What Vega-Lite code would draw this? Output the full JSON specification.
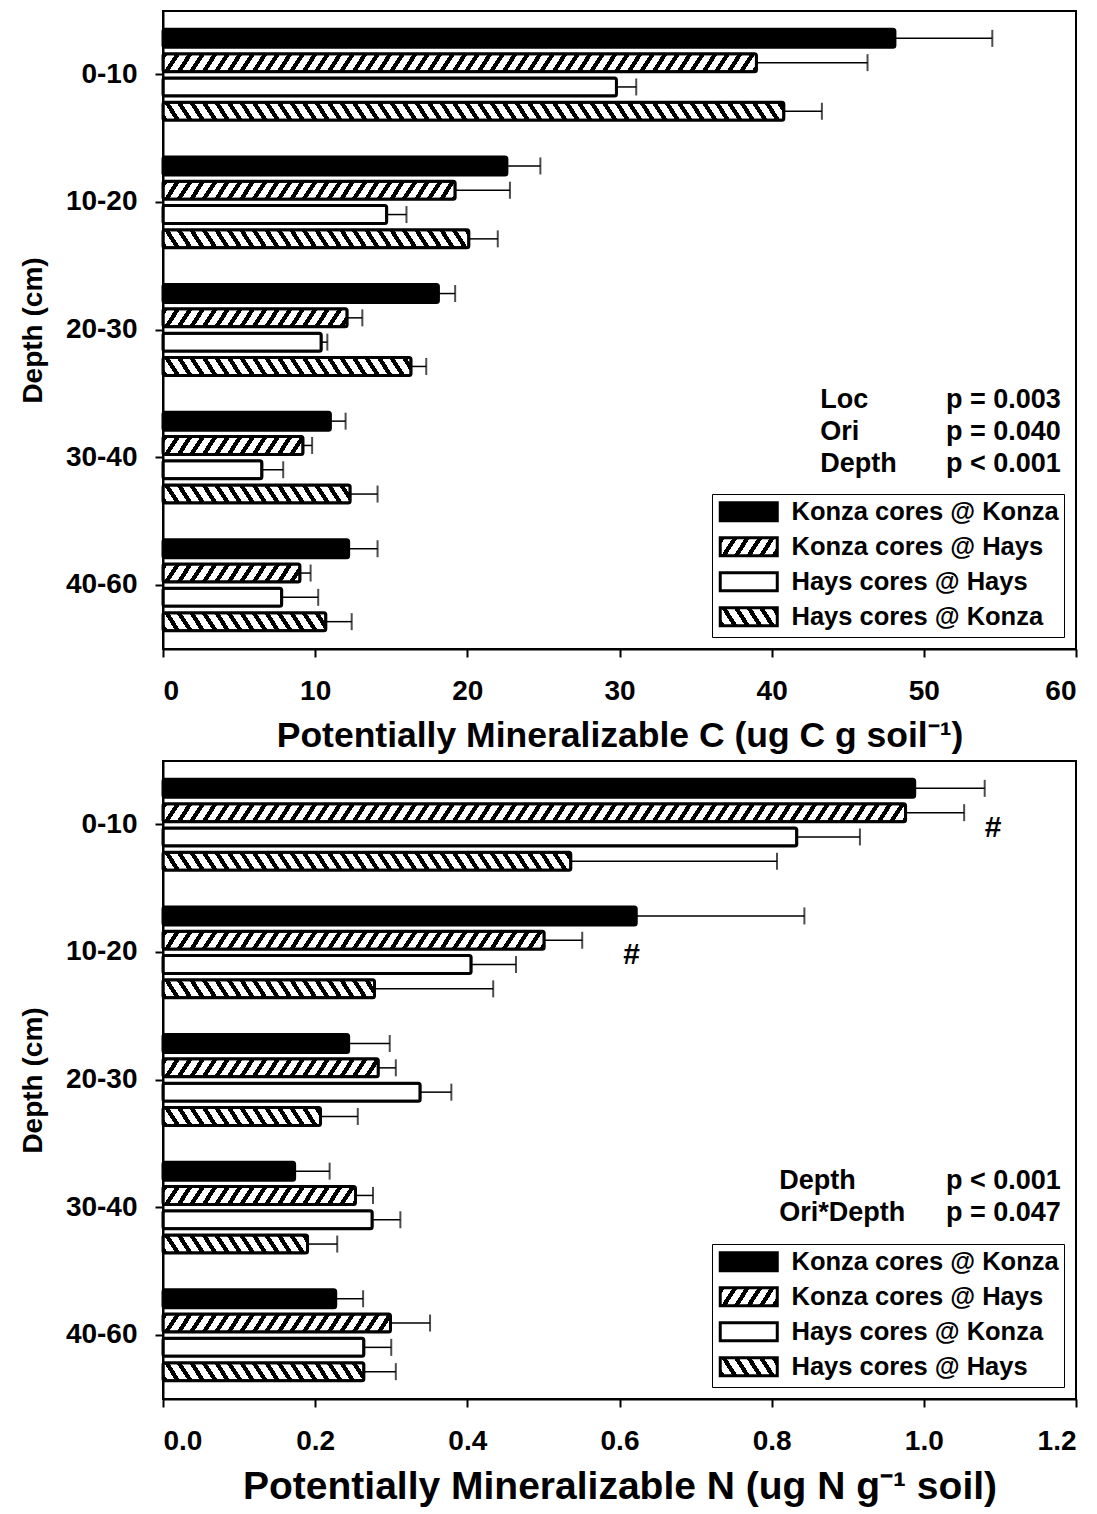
{
  "$schema": "https://vega.github.io/schema/vega-lite/v6.json",
  "padding": {"left": 18, "top": 10, "right": 0, "bottom": 0},
  "background": "#ffffff",
  "params": [
    {
      "name": "hatch",
      "value": [
        {"offset":0,"color":"#fff"},{"offset":0,"color":"#000"},{"offset":0.00625,"color":"#000"},{"offset":0.00625,"color":"#fff"},
        {"offset":0.015625,"color":"#fff"},{"offset":0.015625,"color":"#000"},{"offset":0.021875,"color":"#000"},{"offset":0.021875,"color":"#fff"},
        {"offset":0.03125,"color":"#fff"},{"offset":0.03125,"color":"#000"},{"offset":0.0375,"color":"#000"},{"offset":0.0375,"color":"#fff"},
        {"offset":0.046875,"color":"#fff"},{"offset":0.046875,"color":"#000"},{"offset":0.053125,"color":"#000"},{"offset":0.053125,"color":"#fff"},
        {"offset":0.0625,"color":"#fff"},{"offset":0.0625,"color":"#000"},{"offset":0.06875,"color":"#000"},{"offset":0.06875,"color":"#fff"},
        {"offset":0.078125,"color":"#fff"},{"offset":0.078125,"color":"#000"},{"offset":0.084375,"color":"#000"},{"offset":0.084375,"color":"#fff"},
        {"offset":0.09375,"color":"#fff"},{"offset":0.09375,"color":"#000"},{"offset":0.1,"color":"#000"},{"offset":0.1,"color":"#fff"},
        {"offset":0.109375,"color":"#fff"},{"offset":0.109375,"color":"#000"},{"offset":0.115625,"color":"#000"},{"offset":0.115625,"color":"#fff"},
        {"offset":0.125,"color":"#fff"},{"offset":0.125,"color":"#000"},{"offset":0.13125,"color":"#000"},{"offset":0.13125,"color":"#fff"},
        {"offset":0.140625,"color":"#fff"},{"offset":0.140625,"color":"#000"},{"offset":0.146875,"color":"#000"},{"offset":0.146875,"color":"#fff"},
        {"offset":0.15625,"color":"#fff"},{"offset":0.15625,"color":"#000"},{"offset":0.1625,"color":"#000"},{"offset":0.1625,"color":"#fff"},
        {"offset":0.171875,"color":"#fff"},{"offset":0.171875,"color":"#000"},{"offset":0.178125,"color":"#000"},{"offset":0.178125,"color":"#fff"},
        {"offset":0.1875,"color":"#fff"},{"offset":0.1875,"color":"#000"},{"offset":0.19375,"color":"#000"},{"offset":0.19375,"color":"#fff"},
        {"offset":0.203125,"color":"#fff"},{"offset":0.203125,"color":"#000"},{"offset":0.209375,"color":"#000"},{"offset":0.209375,"color":"#fff"},
        {"offset":0.21875,"color":"#fff"},{"offset":0.21875,"color":"#000"},{"offset":0.225,"color":"#000"},{"offset":0.225,"color":"#fff"},
        {"offset":0.234375,"color":"#fff"},{"offset":0.234375,"color":"#000"},{"offset":0.240625,"color":"#000"},{"offset":0.240625,"color":"#fff"},
        {"offset":0.25,"color":"#fff"},{"offset":0.25,"color":"#000"},{"offset":0.25625,"color":"#000"},{"offset":0.25625,"color":"#fff"},
        {"offset":0.265625,"color":"#fff"},{"offset":0.265625,"color":"#000"},{"offset":0.271875,"color":"#000"},{"offset":0.271875,"color":"#fff"},
        {"offset":0.28125,"color":"#fff"},{"offset":0.28125,"color":"#000"},{"offset":0.2875,"color":"#000"},{"offset":0.2875,"color":"#fff"},
        {"offset":0.296875,"color":"#fff"},{"offset":0.296875,"color":"#000"},{"offset":0.303125,"color":"#000"},{"offset":0.303125,"color":"#fff"},
        {"offset":0.3125,"color":"#fff"},{"offset":0.3125,"color":"#000"},{"offset":0.31875,"color":"#000"},{"offset":0.31875,"color":"#fff"},
        {"offset":0.328125,"color":"#fff"},{"offset":0.328125,"color":"#000"},{"offset":0.334375,"color":"#000"},{"offset":0.334375,"color":"#fff"},
        {"offset":0.34375,"color":"#fff"},{"offset":0.34375,"color":"#000"},{"offset":0.35,"color":"#000"},{"offset":0.35,"color":"#fff"},
        {"offset":0.359375,"color":"#fff"},{"offset":0.359375,"color":"#000"},{"offset":0.365625,"color":"#000"},{"offset":0.365625,"color":"#fff"},
        {"offset":0.375,"color":"#fff"},{"offset":0.375,"color":"#000"},{"offset":0.38125,"color":"#000"},{"offset":0.38125,"color":"#fff"},
        {"offset":0.390625,"color":"#fff"},{"offset":0.390625,"color":"#000"},{"offset":0.396875,"color":"#000"},{"offset":0.396875,"color":"#fff"},
        {"offset":0.40625,"color":"#fff"},{"offset":0.40625,"color":"#000"},{"offset":0.4125,"color":"#000"},{"offset":0.4125,"color":"#fff"},
        {"offset":0.421875,"color":"#fff"},{"offset":0.421875,"color":"#000"},{"offset":0.428125,"color":"#000"},{"offset":0.428125,"color":"#fff"},
        {"offset":0.4375,"color":"#fff"},{"offset":0.4375,"color":"#000"},{"offset":0.44375,"color":"#000"},{"offset":0.44375,"color":"#fff"},
        {"offset":0.453125,"color":"#fff"},{"offset":0.453125,"color":"#000"},{"offset":0.459375,"color":"#000"},{"offset":0.459375,"color":"#fff"},
        {"offset":0.46875,"color":"#fff"},{"offset":0.46875,"color":"#000"},{"offset":0.475,"color":"#000"},{"offset":0.475,"color":"#fff"},
        {"offset":0.484375,"color":"#fff"},{"offset":0.484375,"color":"#000"},{"offset":0.490625,"color":"#000"},{"offset":0.490625,"color":"#fff"},
        {"offset":0.5,"color":"#fff"},{"offset":0.5,"color":"#000"},{"offset":0.50625,"color":"#000"},{"offset":0.50625,"color":"#fff"},
        {"offset":0.515625,"color":"#fff"},{"offset":0.515625,"color":"#000"},{"offset":0.521875,"color":"#000"},{"offset":0.521875,"color":"#fff"},
        {"offset":0.53125,"color":"#fff"},{"offset":0.53125,"color":"#000"},{"offset":0.5375,"color":"#000"},{"offset":0.5375,"color":"#fff"},
        {"offset":0.546875,"color":"#fff"},{"offset":0.546875,"color":"#000"},{"offset":0.553125,"color":"#000"},{"offset":0.553125,"color":"#fff"},
        {"offset":0.5625,"color":"#fff"},{"offset":0.5625,"color":"#000"},{"offset":0.56875,"color":"#000"},{"offset":0.56875,"color":"#fff"},
        {"offset":0.578125,"color":"#fff"},{"offset":0.578125,"color":"#000"},{"offset":0.584375,"color":"#000"},{"offset":0.584375,"color":"#fff"},
        {"offset":0.59375,"color":"#fff"},{"offset":0.59375,"color":"#000"},{"offset":0.6,"color":"#000"},{"offset":0.6,"color":"#fff"},
        {"offset":0.609375,"color":"#fff"},{"offset":0.609375,"color":"#000"},{"offset":0.615625,"color":"#000"},{"offset":0.615625,"color":"#fff"},
        {"offset":0.625,"color":"#fff"},{"offset":0.625,"color":"#000"},{"offset":0.63125,"color":"#000"},{"offset":0.63125,"color":"#fff"},
        {"offset":0.640625,"color":"#fff"},{"offset":0.640625,"color":"#000"},{"offset":0.646875,"color":"#000"},{"offset":0.646875,"color":"#fff"},
        {"offset":0.65625,"color":"#fff"},{"offset":0.65625,"color":"#000"},{"offset":0.6625,"color":"#000"},{"offset":0.6625,"color":"#fff"},
        {"offset":0.671875,"color":"#fff"},{"offset":0.671875,"color":"#000"},{"offset":0.678125,"color":"#000"},{"offset":0.678125,"color":"#fff"},
        {"offset":0.6875,"color":"#fff"},{"offset":0.6875,"color":"#000"},{"offset":0.69375,"color":"#000"},{"offset":0.69375,"color":"#fff"},
        {"offset":0.703125,"color":"#fff"},{"offset":0.703125,"color":"#000"},{"offset":0.709375,"color":"#000"},{"offset":0.709375,"color":"#fff"},
        {"offset":0.71875,"color":"#fff"},{"offset":0.71875,"color":"#000"},{"offset":0.725,"color":"#000"},{"offset":0.725,"color":"#fff"},
        {"offset":0.734375,"color":"#fff"},{"offset":0.734375,"color":"#000"},{"offset":0.740625,"color":"#000"},{"offset":0.740625,"color":"#fff"},
        {"offset":0.75,"color":"#fff"},{"offset":0.75,"color":"#000"},{"offset":0.75625,"color":"#000"},{"offset":0.75625,"color":"#fff"},
        {"offset":0.765625,"color":"#fff"},{"offset":0.765625,"color":"#000"},{"offset":0.771875,"color":"#000"},{"offset":0.771875,"color":"#fff"},
        {"offset":0.78125,"color":"#fff"},{"offset":0.78125,"color":"#000"},{"offset":0.7875,"color":"#000"},{"offset":0.7875,"color":"#fff"},
        {"offset":0.796875,"color":"#fff"},{"offset":0.796875,"color":"#000"},{"offset":0.803125,"color":"#000"},{"offset":0.803125,"color":"#fff"},
        {"offset":0.8125,"color":"#fff"},{"offset":0.8125,"color":"#000"},{"offset":0.81875,"color":"#000"},{"offset":0.81875,"color":"#fff"},
        {"offset":0.828125,"color":"#fff"},{"offset":0.828125,"color":"#000"},{"offset":0.834375,"color":"#000"},{"offset":0.834375,"color":"#fff"},
        {"offset":0.84375,"color":"#fff"},{"offset":0.84375,"color":"#000"},{"offset":0.85,"color":"#000"},{"offset":0.85,"color":"#fff"},
        {"offset":0.859375,"color":"#fff"},{"offset":0.859375,"color":"#000"},{"offset":0.865625,"color":"#000"},{"offset":0.865625,"color":"#fff"},
        {"offset":0.875,"color":"#fff"},{"offset":0.875,"color":"#000"},{"offset":0.88125,"color":"#000"},{"offset":0.88125,"color":"#fff"},
        {"offset":0.890625,"color":"#fff"},{"offset":0.890625,"color":"#000"},{"offset":0.896875,"color":"#000"},{"offset":0.896875,"color":"#fff"},
        {"offset":0.90625,"color":"#fff"},{"offset":0.90625,"color":"#000"},{"offset":0.9125,"color":"#000"},{"offset":0.9125,"color":"#fff"},
        {"offset":0.921875,"color":"#fff"},{"offset":0.921875,"color":"#000"},{"offset":0.928125,"color":"#000"},{"offset":0.928125,"color":"#fff"},
        {"offset":0.9375,"color":"#fff"},{"offset":0.9375,"color":"#000"},{"offset":0.94375,"color":"#000"},{"offset":0.94375,"color":"#fff"},
        {"offset":0.953125,"color":"#fff"},{"offset":0.953125,"color":"#000"},{"offset":0.959375,"color":"#000"},{"offset":0.959375,"color":"#fff"},
        {"offset":0.96875,"color":"#fff"},{"offset":0.96875,"color":"#000"},{"offset":0.975,"color":"#000"},{"offset":0.975,"color":"#fff"},
        {"offset":0.984375,"color":"#fff"},{"offset":0.984375,"color":"#000"},{"offset":0.990625,"color":"#000"},{"offset":0.990625,"color":"#fff"}
      ]
    }
  ],
  "datasets": {
    "carbon": [
      {"depth":"0-10","series":"Konza cores @ Konza","mean":48.1,"upper":54.5},
      {"depth":"0-10","series":"Konza cores @ Hays","mean":39.0,"upper":46.3},
      {"depth":"0-10","series":"Hays cores @ Hays","mean":29.8,"upper":31.1},
      {"depth":"0-10","series":"Hays cores @ Konza","mean":40.8,"upper":43.3},
      {"depth":"10-20","series":"Konza cores @ Konza","mean":22.6,"upper":24.8},
      {"depth":"10-20","series":"Konza cores @ Hays","mean":19.2,"upper":22.8},
      {"depth":"10-20","series":"Hays cores @ Hays","mean":14.7,"upper":16.0},
      {"depth":"10-20","series":"Hays cores @ Konza","mean":20.1,"upper":22.0},
      {"depth":"20-30","series":"Konza cores @ Konza","mean":18.1,"upper":19.2},
      {"depth":"20-30","series":"Konza cores @ Hays","mean":12.1,"upper":13.1},
      {"depth":"20-30","series":"Hays cores @ Hays","mean":10.4,"upper":10.8},
      {"depth":"20-30","series":"Hays cores @ Konza","mean":16.3,"upper":17.3},
      {"depth":"30-40","series":"Konza cores @ Konza","mean":11.0,"upper":12.0},
      {"depth":"30-40","series":"Konza cores @ Hays","mean":9.2,"upper":9.8},
      {"depth":"30-40","series":"Hays cores @ Hays","mean":6.5,"upper":7.9},
      {"depth":"30-40","series":"Hays cores @ Konza","mean":12.3,"upper":14.1},
      {"depth":"40-60","series":"Konza cores @ Konza","mean":12.2,"upper":14.1},
      {"depth":"40-60","series":"Konza cores @ Hays","mean":9.0,"upper":9.7},
      {"depth":"40-60","series":"Hays cores @ Hays","mean":7.8,"upper":10.2},
      {"depth":"40-60","series":"Hays cores @ Konza","mean":10.7,"upper":12.4}
    ],
    "nitrogen": [
      {"depth":"0-10","series":"Konza cores @ Konza","mean":0.988,"upper":1.080},
      {"depth":"0-10","series":"Konza cores @ Hays","mean":0.976,"upper":1.053},
      {"depth":"0-10","series":"Hays cores @ Konza","mean":0.833,"upper":0.916},
      {"depth":"0-10","series":"Hays cores @ Hays","mean":0.536,"upper":0.807},
      {"depth":"10-20","series":"Konza cores @ Konza","mean":0.622,"upper":0.843},
      {"depth":"10-20","series":"Konza cores @ Hays","mean":0.501,"upper":0.551},
      {"depth":"10-20","series":"Hays cores @ Konza","mean":0.405,"upper":0.464},
      {"depth":"10-20","series":"Hays cores @ Hays","mean":0.278,"upper":0.434},
      {"depth":"20-30","series":"Konza cores @ Konza","mean":0.244,"upper":0.298},
      {"depth":"20-30","series":"Konza cores @ Hays","mean":0.283,"upper":0.306},
      {"depth":"20-30","series":"Hays cores @ Konza","mean":0.338,"upper":0.379},
      {"depth":"20-30","series":"Hays cores @ Hays","mean":0.207,"upper":0.256},
      {"depth":"30-40","series":"Konza cores @ Konza","mean":0.173,"upper":0.219},
      {"depth":"30-40","series":"Konza cores @ Hays","mean":0.253,"upper":0.276},
      {"depth":"30-40","series":"Hays cores @ Konza","mean":0.275,"upper":0.312},
      {"depth":"30-40","series":"Hays cores @ Hays","mean":0.190,"upper":0.229},
      {"depth":"40-60","series":"Konza cores @ Konza","mean":0.227,"upper":0.263},
      {"depth":"40-60","series":"Konza cores @ Hays","mean":0.299,"upper":0.351},
      {"depth":"40-60","series":"Hays cores @ Konza","mean":0.264,"upper":0.300},
      {"depth":"40-60","series":"Hays cores @ Hays","mean":0.264,"upper":0.306}
    ],
    "nitrogenNotes": [
      {"depth":"0-10","x":1.091,"note":"#"},
      {"depth":"10-20","x":0.616,"note":"#"}
    ]
  },
  "config": {
    "font": "Liberation Sans",
    "view": {"stroke": "#000", "strokeWidth": 2},
    "axis": {
      "domainColor": "#000", "domainWidth": 2, "tickColor": "#000", "tickWidth": 2, "tickSize": 8,
      "labelColor": "#000", "labelFont": "Liberation Sans", "labelFontWeight": "bold", "labelFontSize": 28,
      "titleColor": "#000", "titleFont": "Liberation Sans", "titleFontWeight": "bold", "grid": false
    },
    "legend": {
      "title": null, "orient": "bottom-right", "offset": 12,
      "symbolType": "M-3.125,-1H3.125V1H-3.125Z", "symbolSize": 333, "symbolOffset": 19,
      "symbolStrokeWidth": 3, "symbolStrokeColor": "#000",
      "labelFont": "Liberation Sans", "labelFontWeight": "bold", "labelFontSize": 25.5, "labelColor": "#000",
      "labelOffset": 30, "labelLimit": 500, "rowPadding": 4, "padding": 5,
      "strokeColor": "#000", "fillColor": "#fff"
    }
  },
  "spacing": 5,
  "resolve": {
    "scale": {"x": "independent", "y": "independent", "yOffset": "independent", "stroke": "independent"},
    "legend": {"stroke": "independent"}
  },
  "vconcat": [
    {
      "width": 913,
      "height": 638,
      "data": {"name": "carbon"},
      "layer": [
        {
          "mark": {
            "type": "bar", "strokeWidth": 3, "strokeJoin": "round", "cornerRadius": 2,
            "fill": {"expr": "(datum.series || datum.value) == 'Konza cores @ Konza' ? '#000' : (datum.series || datum.value) == 'Hays cores @ Hays' ? '#fff' : {'gradient': 'linear', 'x1': 0, 'y1': (datum.series || datum.value) == 'Konza cores @ Hays' ? 0 : 1, 'x2': 800 * (isValid(datum.mean) ? datum.mean * 15.2167 : 57) / (pow(isValid(datum.mean) ? datum.mean * 15.2167 : 57, 2) + 136.89), 'y2': ((datum.series || datum.value) == 'Konza cores @ Hays' ? 0 : 1) + ((datum.series || datum.value) == 'Konza cores @ Hays' ? 1 : -1) * 9360 / (pow(isValid(datum.mean) ? datum.mean * 15.2167 : 57, 2) + 136.89), 'stops': hatch}"}
          },
          "encoding": {
            "y": {
              "field": "depth", "type": "nominal",
              "scale": {"domain": ["0-10", "10-20", "20-30", "30-40", "40-60"], "paddingInner": 0, "paddingOuter": 0},
              "axis": {"title": "Depth (cm)", "titleFontSize": 28, "labelPadding": 18, "titlePadding": 18}
            },
            "yOffset": {
              "field": "series", "type": "nominal",
              "scale": {"domain": ["Konza cores @ Konza", "Konza cores @ Hays", "Hays cores @ Hays", "Hays cores @ Konza"], "paddingInner": 0.26, "paddingOuter": 0.755}
            },
            "x": {
              "field": "mean", "type": "quantitative",
              "scale": {"domain": [0, 60], "nice": false},
              "axis": {"title": "Potentially Mineralizable C (ug C g soil⁻¹)", "titleFontSize": 35.5, "values": [0, 10, 20, 30, 40, 50, 60], "labelPadding": 20, "titlePadding": 13}
            },
            "stroke": {
              "field": "series", "type": "nominal",
              "scale": {"domain": ["Konza cores @ Konza", "Konza cores @ Hays", "Hays cores @ Hays", "Hays cores @ Konza"], "range": ["#000", "#000", "#000", "#000"]},
              "legend": {"encode": {"legend": {"update": {"strokeWidth": {"value": 1.5}}}}}
            }
          }
        },
        {
          "mark": {"type": "rule", "strokeWidth": 1.5, "color": "#000"},
          "encoding": {
            "y": {"field": "depth", "type": "nominal"},
            "yOffset": {"field": "series", "type": "nominal"},
            "x": {"field": "mean", "type": "quantitative"},
            "x2": {"field": "upper"}
          }
        },
        {
          "mark": {"type": "tick", "orient": "vertical", "thickness": 2, "color": "#000"},
          "encoding": {
            "y": {"field": "depth", "type": "nominal"},
            "yOffset": {"field": "series", "type": "nominal"},
            "x": {"field": "upper", "type": "quantitative"},
            "size": {"value": 17}
          }
        },
        {
          "data": {"values": [{}]},
          "mark": {"type": "text", "text": ["Loc", "Ori", "Depth"], "align": "left", "baseline": "middle", "lineHeight": 32, "fontSize": 27, "fontWeight": "bold", "color": "#000", "dy": -58},
          "encoding": {
            "x": {"datum": 43.2, "type": "quantitative"},
            "y": {"datum": "30-40", "type": "nominal"}
          }
        },
        {
          "data": {"values": [{}]},
          "mark": {"type": "text", "text": ["p = 0.003", "p = 0.040", "p < 0.001"], "align": "left", "baseline": "middle", "lineHeight": 32, "fontSize": 27, "fontWeight": "bold", "color": "#000", "dy": -58},
          "encoding": {
            "x": {"datum": 51.45, "type": "quantitative"},
            "y": {"datum": "30-40", "type": "nominal"}
          }
        }
      ]
    },
    {
      "width": 913,
      "height": 638,
      "data": {"name": "nitrogen"},
      "layer": [
        {
          "mark": {
            "type": "bar", "strokeWidth": 3, "strokeJoin": "round", "cornerRadius": 2,
            "fill": {"expr": "(datum.series || datum.value) == 'Konza cores @ Konza' ? '#000' : (datum.series || datum.value) == 'Hays cores @ Konza' ? '#fff' : {'gradient': 'linear', 'x1': 0, 'y1': (datum.series || datum.value) == 'Konza cores @ Hays' ? 0 : 1, 'x2': 800 * (isValid(datum.mean) ? datum.mean * 760.833 : 57) / (pow(isValid(datum.mean) ? datum.mean * 760.833 : 57, 2) + 136.89), 'y2': ((datum.series || datum.value) == 'Konza cores @ Hays' ? 0 : 1) + ((datum.series || datum.value) == 'Konza cores @ Hays' ? 1 : -1) * 9360 / (pow(isValid(datum.mean) ? datum.mean * 760.833 : 57, 2) + 136.89), 'stops': hatch}"}
          },
          "encoding": {
            "y": {
              "field": "depth", "type": "nominal",
              "scale": {"domain": ["0-10", "10-20", "20-30", "30-40", "40-60"], "paddingInner": 0, "paddingOuter": 0},
              "axis": {"title": "Depth (cm)", "titleFontSize": 28, "labelPadding": 18, "titlePadding": 18}
            },
            "yOffset": {
              "field": "series", "type": "nominal",
              "scale": {"domain": ["Konza cores @ Konza", "Konza cores @ Hays", "Hays cores @ Konza", "Hays cores @ Hays"], "paddingInner": 0.26, "paddingOuter": 0.755}
            },
            "x": {
              "field": "mean", "type": "quantitative",
              "scale": {"domain": [0, 1.2], "nice": false},
              "axis": {"title": "Potentially Mineralizable N (ug N g⁻¹ soil)", "titleFontSize": 39, "values": [0, 0.2, 0.4, 0.6, 0.8, 1.0, 1.2], "format": ".1f", "labelPadding": 20, "titlePadding": 12}
            },
            "stroke": {
              "field": "series", "type": "nominal",
              "scale": {"domain": ["Konza cores @ Konza", "Konza cores @ Hays", "Hays cores @ Konza", "Hays cores @ Hays"], "range": ["#000", "#000", "#000", "#000"]},
              "legend": {"encode": {"legend": {"update": {"strokeWidth": {"value": 1.5}}}}}
            }
          }
        },
        {
          "mark": {"type": "rule", "strokeWidth": 1.5, "color": "#000"},
          "encoding": {
            "y": {"field": "depth", "type": "nominal"},
            "yOffset": {"field": "series", "type": "nominal"},
            "x": {"field": "mean", "type": "quantitative"},
            "x2": {"field": "upper"}
          }
        },
        {
          "mark": {"type": "tick", "orient": "vertical", "thickness": 2, "color": "#000"},
          "encoding": {
            "y": {"field": "depth", "type": "nominal"},
            "yOffset": {"field": "series", "type": "nominal"},
            "x": {"field": "upper", "type": "quantitative"},
            "size": {"value": 17}
          }
        },
        {
          "data": {"name": "nitrogenNotes"},
          "mark": {"type": "text", "fontSize": 30, "fontWeight": "bold", "color": "#000", "baseline": "middle", "align": "center", "dy": 3},
          "encoding": {
            "x": {"field": "x", "type": "quantitative"},
            "y": {"field": "depth", "type": "nominal"},
            "text": {"field": "note"}
          }
        },
        {
          "data": {"values": [{}]},
          "mark": {"type": "text", "text": ["Depth", "Ori*Depth"], "align": "left", "baseline": "middle", "lineHeight": 32, "fontSize": 27, "fontWeight": "bold", "color": "#000", "dy": -26.6},
          "encoding": {
            "x": {"datum": 0.81, "type": "quantitative"},
            "y": {"datum": "30-40", "type": "nominal"}
          }
        },
        {
          "data": {"values": [{}]},
          "mark": {"type": "text", "text": ["p < 0.001", "p = 0.047"], "align": "left", "baseline": "middle", "lineHeight": 32, "fontSize": 27, "fontWeight": "bold", "color": "#000", "dy": -26.6},
          "encoding": {
            "x": {"datum": 1.029, "type": "quantitative"},
            "y": {"datum": "30-40", "type": "nominal"}
          }
        }
      ]
    }
  ]
}
